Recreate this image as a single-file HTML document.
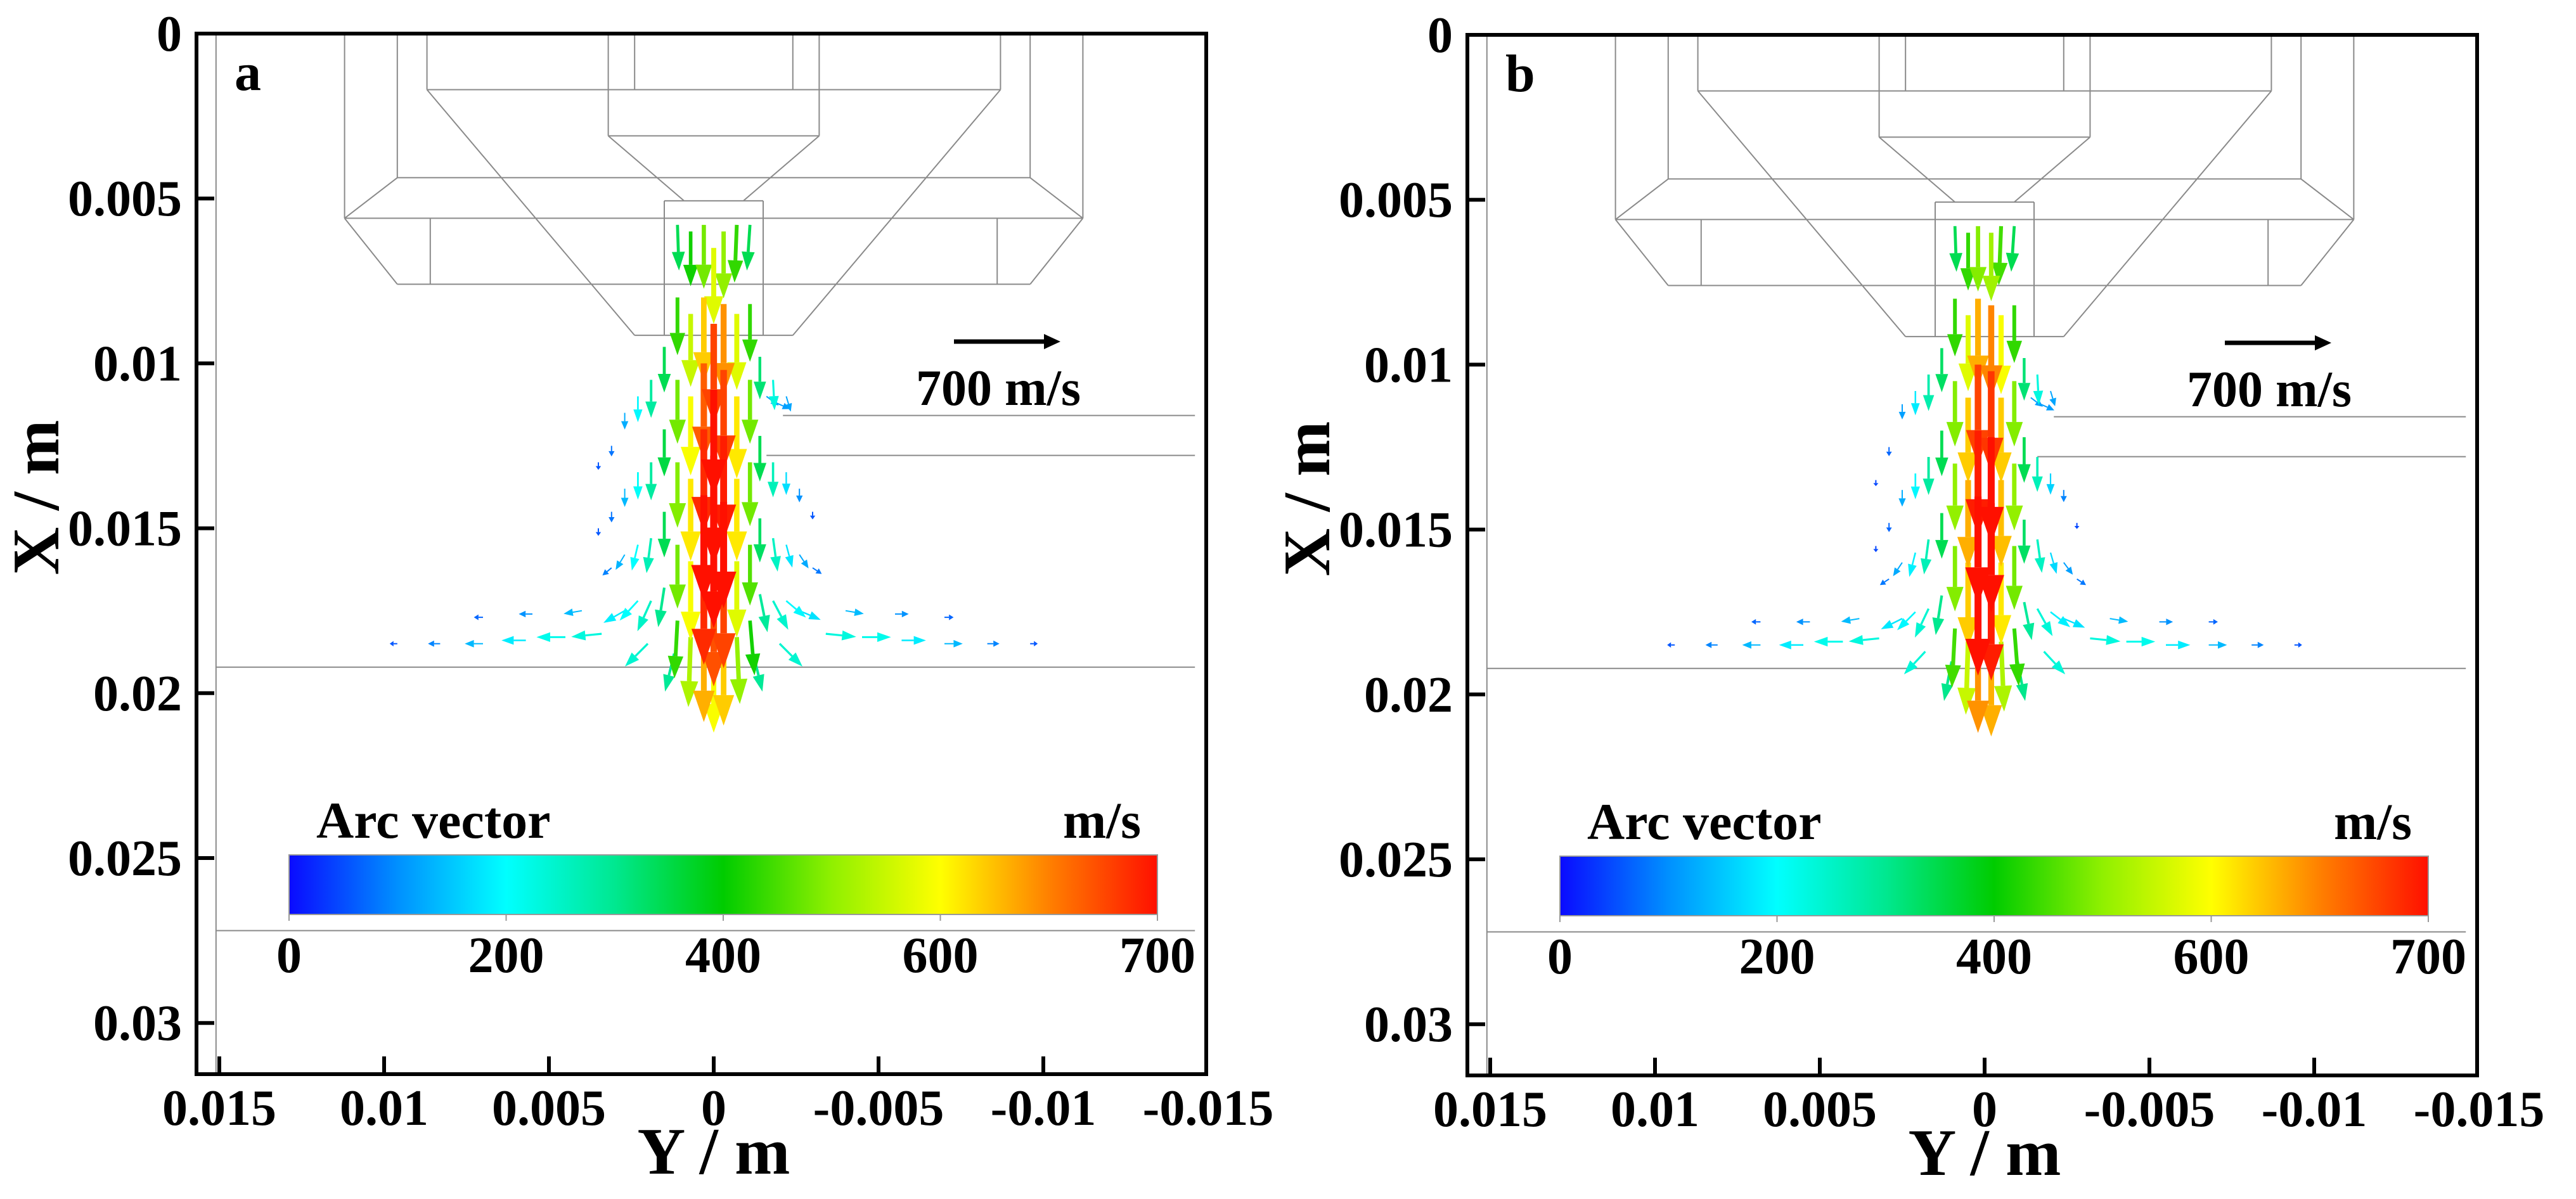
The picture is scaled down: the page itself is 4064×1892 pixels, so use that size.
<!DOCTYPE html>
<html><head><meta charset="utf-8"><style>
html,body{margin:0;padding:0;background:#fff;}
svg{display:block;}
text{font-family:"Liberation Serif",serif;font-weight:bold;fill:#000;}
</style></head><body>
<svg id="fig" width="4064" height="1892" viewBox="0 0 4064 1892" xmlns="http://www.w3.org/2000/svg">
<defs>
<linearGradient id="jet" x1="0" x2="1" y1="0" y2="0">
<stop offset="0" stop-color="#0a0aff"/><stop offset="0.125" stop-color="#0090ff"/><stop offset="0.25" stop-color="#00ffff"/>
<stop offset="0.375" stop-color="#00e890"/><stop offset="0.5" stop-color="#00cc00"/><stop offset="0.625" stop-color="#90f000"/>
<stop offset="0.75" stop-color="#ffff00"/><stop offset="0.875" stop-color="#ff8000"/><stop offset="1" stop-color="#ff1000"/>
</linearGradient>
</defs>
</svg>
<script>
// ---- data ----
const xTickValues = [0, 0.005, 0.01, 0.015, 0.02, 0.025, 0.03];
const xTickLabels = ["0", "0.005", "0.01", "0.015", "0.02", "0.025", "0.03"];
const yTickValues = [0.015, 0.01, 0.005, 0, -0.005, -0.01, -0.015];
const yTickLabels = ["0.015", "0.01", "0.005", "0", "-0.005", "-0.01", "-0.015"];
const colorbarValues = [0, 200, 400, 600, 800];
const colorbarLabels = ["0", "200", "400", "600", "700"];
const referenceSpeed = 700;
// vectors: [Y (m), X (m), radial velocity (m/s, +screen right), axial velocity (m/s, +down)]
const vectorsA = [
[0.0035,0.0130,0,50],[0.0035,0.0150,0,50],[0.0031,0.0125,0,70],[0.0031,0.0145,0,70],[0.0031,0.0162,-60,50],
[-0.0030,0.0145,0,50],[-0.0030,0.0162,60,40],
[0.0027,0.0115,0,110],[0.0027,0.0138,0,120],[0.0027,0.0158,-60,100],[0.0027,0.0175,-140,80],
[-0.0026,0.0138,0,90],[-0.0026,0.0158,60,90],[-0.0026,0.0175,140,60],
[0.0023,0.0110,0,170],[0.0023,0.0133,0,180],[0.0023,0.0155,-40,170],[0.0023,0.0172,-120,130],
[-0.0022,0.0110,30,100],[-0.0022,0.0133,0,150],[-0.0022,0.0155,40,150],[-0.0022,0.0172,130,110],
[0.0019,0.0105,0,250],[0.0019,0.0130,0,250],[0.0019,0.0153,-30,230],[0.0019,0.0172,-90,200],
[-0.0018,0.0105,10,200],[-0.0018,0.0130,0,230],[-0.0018,0.0153,30,220],[-0.0018,0.0172,100,190],
[0.0015,0.0095,0,300],[0.0015,0.0120,0,310],[0.0015,0.0145,0,300],[0.0015,0.0168,-40,260],
[-0.0014,0.0098,0,280],[-0.0014,0.0122,0,300],[-0.0014,0.0147,0,290],[-0.0014,0.0170,50,250],
[-0.0016,0.0110,80,60],[-0.0019,0.0112,90,40],
[0.0034,0.0182,-200,20],[0.0045,0.0183,-190,0],[0.0057,0.0184,-160,0],[0.0070,0.0185,-120,0],[0.0083,0.0185,-80,0],[0.0096,0.0185,-50,0],
[0.0040,0.0175,-120,20],[0.0055,0.0176,-90,0],[0.0070,0.0177,-60,0],
[-0.0034,0.0182,200,20],[-0.0045,0.0183,190,0],[-0.0057,0.0184,160,0],[-0.0070,0.0185,120,0],[-0.0083,0.0185,80,0],[-0.0096,0.0185,50,0],
[-0.0040,0.0175,120,20],[-0.0055,0.0176,90,0],[-0.0070,0.0177,60,0],
[0.0020,0.0185,-150,150],[-0.0020,0.0185,150,150],[0.0012,0.0188,-60,250],[-0.0012,0.0188,60,250],
[0.0011,0.0058,10,300],[0.0011,0.0080,0,380],[0.0011,0.0105,0,420],[0.0011,0.0130,0,430],[0.0011,0.0155,0,420],[0.0011,0.0178,-20,380],
[-0.0011,0.0058,-20,300],[-0.0011,0.0082,0,380],[-0.0011,0.0105,0,420],[-0.0011,0.0130,0,420],[-0.0011,0.0155,0,400],[-0.0011,0.0178,30,360],
[0.0007,0.0060,0,360],[0.0007,0.0085,0,480],[0.0007,0.0110,0,520],[0.0007,0.0135,0,540],[0.0007,0.0160,0,520],[0.0007,0.0183,-15,460],
[-0.0007,0.0058,-15,380],[-0.0007,0.0085,0,500],[-0.0007,0.0110,0,540],[-0.0007,0.0135,0,540],[-0.0007,0.0160,0,500],[-0.0007,0.0183,20,440],
[0.0003,0.0058,0,420],[0.0003,0.0080,0,560],[0.0003,0.0100,0,640],[0.0003,0.0120,0,680],[0.0003,0.0140,0,700],[0.0003,0.0160,0,680],[0.0003,0.0182,0,580],
[-0.0003,0.0060,0,440],[-0.0003,0.0082,0,600],[-0.0003,0.0102,0,660],[-0.0003,0.0122,0,690],[-0.0003,0.0142,0,700],[-0.0003,0.0162,0,660],[-0.0003,0.0184,0,560],
[0.0000,0.0065,0,500],[0.0000,0.0088,0,660],[0.0000,0.0108,0,700],[0.0000,0.0128,0,720],[0.0000,0.0148,0,700],[0.0000,0.0168,0,650],[0.0000,0.0188,0,520]
];
const vectorsB = [
[0.0033,0.0135,0,40],[0.0033,0.0155,0,40],[0.0029,0.0125,0,60],[0.0029,0.0148,0,60],[0.0029,0.0165,-60,40],
[-0.0028,0.0148,0,40],[-0.0028,0.0165,60,40],
[0.0025,0.0112,0,100],[0.0025,0.0138,0,110],[0.0025,0.0160,-60,90],[0.0025,0.0177,-140,70],
[-0.0024,0.0138,0,80],[-0.0024,0.0160,60,80],[-0.0024,0.0177,140,60],
[0.0021,0.0108,0,160],[0.0021,0.0133,0,170],[0.0021,0.0157,-40,160],[0.0021,0.0175,-120,120],
[-0.0020,0.0108,30,100],[-0.0020,0.0133,0,140],[-0.0020,0.0157,40,140],[-0.0020,0.0175,130,100],
[0.0017,0.0103,0,240],[0.0017,0.0128,0,250],[0.0017,0.0153,-30,230],[0.0017,0.0174,-90,190],
[-0.0016,0.0103,10,200],[-0.0016,0.0128,0,230],[-0.0016,0.0153,30,220],[-0.0016,0.0174,100,180],
[0.0013,0.0095,0,290],[0.0013,0.0120,0,300],[0.0013,0.0145,0,300],[0.0013,0.0170,-40,260],
[-0.0012,0.0098,0,280],[-0.0012,0.0122,0,300],[-0.0012,0.0147,0,290],[-0.0012,0.0172,50,250],
[-0.0014,0.0110,80,60],[-0.0017,0.0112,90,40],
[0.0032,0.0183,-200,20],[0.0043,0.0184,-190,0],[0.0055,0.0185,-160,0],[0.0068,0.0185,-120,0],[0.0081,0.0185,-80,0],[0.0094,0.0185,-50,0],
[0.0038,0.0177,-120,20],[0.0053,0.0178,-90,0],[0.0068,0.0178,-60,0],
[-0.0032,0.0183,200,20],[-0.0043,0.0184,190,0],[-0.0055,0.0185,160,0],[-0.0068,0.0185,120,0],[-0.0081,0.0185,80,0],[-0.0094,0.0185,50,0],
[-0.0038,0.0177,120,20],[-0.0053,0.0178,90,0],[-0.0068,0.0178,60,0],
[0.0018,0.0187,-140,150],[-0.0018,0.0187,140,150],[0.0010,0.0190,-50,260],[-0.0010,0.0190,50,260],
[0.0009,0.0058,10,300],[0.0009,0.0080,0,380],[0.0009,0.0105,0,430],[0.0009,0.0130,0,440],[0.0009,0.0155,0,430],[0.0009,0.0180,-20,390],
[-0.0009,0.0058,-20,300],[-0.0009,0.0082,0,380],[-0.0009,0.0105,0,430],[-0.0009,0.0130,0,440],[-0.0009,0.0155,0,420],[-0.0009,0.0180,30,380],
[0.0005,0.0060,0,380],[0.0005,0.0085,0,500],[0.0005,0.0110,0,560],[0.0005,0.0135,0,580],[0.0005,0.0160,0,560],[0.0005,0.0184,-15,480],
[-0.0005,0.0058,-15,390],[-0.0005,0.0085,0,520],[-0.0005,0.0110,0,560],[-0.0005,0.0135,0,570],[-0.0005,0.0160,0,540],[-0.0005,0.0184,20,460],
[0.0002,0.0058,0,430],[0.0002,0.0080,0,580],[0.0002,0.0100,0,660],[0.0002,0.0120,0,690],[0.0002,0.0140,0,710],[0.0002,0.0162,0,700],[0.0002,0.0184,0,600],
[-0.0002,0.0060,0,450],[-0.0002,0.0082,0,610],[-0.0002,0.0102,0,670],[-0.0002,0.0122,0,700],[-0.0002,0.0142,0,720],[-0.0002,0.0164,0,690],[-0.0002,0.0186,0,580]
];
// torch geometry segments [Y1, X1, Y2, X2] in metres
const geometryLines = [
[0.0112,0,0.0112,0.0056],[-0.0112,0,-0.0112,0.0056],[0.0112,0.0056,-0.0112,0.0056],
[0.0112,0.0056,0.0096,0.0076],[-0.0112,0.0056,-0.0096,0.0076],[0.0096,0.0076,-0.0096,0.0076],
[0.0086,0.0056,0.0086,0.0076],[-0.0086,0.0056,-0.0086,0.0076],
[0.0096,0,0.0096,0.00437],[-0.0096,0,-0.0096,0.00437],[0.0096,0.00437,-0.0096,0.00437],
[0.0096,0.00437,0.0112,0.0056],[-0.0096,0.00437,-0.0112,0.0056],
[0.0087,0,0.0087,0.0017],[-0.0087,0,-0.0087,0.0017],[0.0087,0.0017,-0.0087,0.0017],
[0.0087,0.0017,0.0024,0.00915],[-0.0087,0.0017,-0.0024,0.00915],[0.0024,0.00915,-0.0024,0.00915],
[0.0032,0,0.0032,0.0031],[-0.0032,0,-0.0032,0.0031],[0.0032,0.0031,-0.0032,0.0031],
[0.0024,0,0.0024,0.0017],[-0.0024,0,-0.0024,0.0017],
[0.0032,0.0031,0.0009,0.00507],[-0.0032,0.0031,-0.0009,0.00507],
[0.0015,0.00507,0.0015,0.00915],[-0.0015,0.00507,-0.0015,0.00915],[0.0015,0.00507,-0.0015,0.00507],
[-0.0021,0.01158,-0.0146,0.01158],[-0.0016,0.01279,-0.0146,0.01279],
[0.0151,0.01921,-0.0146,0.01921],[0.0151,0.0272,-0.0146,0.0272],
[0.0151,0,0.0151,0.0315]
];
// ---- rendering ----
const NS = "http://www.w3.org/2000/svg";
const svg = document.getElementById("fig");
function mk(tag, attrs, parent){const e=document.createElementNS(NS,tag);for(const k in attrs)e.setAttribute(k,attrs[k]);(parent||svg).appendChild(e);return e;}
const cstops=[[0,[10,10,255]],[100,[0,144,255]],[200,[0,255,255]],[300,[0,232,144]],[400,[0,204,0]],[500,[144,240,0]],[600,[255,255,0]],[700,[255,128,0]],[800,[255,16,0]]];
function cmap(v){v=Math.max(0,Math.min(800,v));for(let i=1;i<cstops.length;i++){if(v<=cstops[i][0]){const a=cstops[i-1],b=cstops[i],t=(v-a[0])/(b[0]-a[0]);const c=a[1].map((x,j)=>Math.round(x+(b[1][j]-x)*t));return `rgb(${c[0]},${c[1]},${c[2]})`;}}return "rgb(255,16,0)";}

function panel(dx, dy, letter, vectors){
  const g = mk("g",{});
  
  
  const L=310+dx, R=1903+dx, T=53+dy, B=1695+dy;
  const px = Y => 1126+dx - Y/0.005*260;
  const py = X => 53+dy + X/0.005*260.2;
  const geo = mk("g",{stroke:"#8a8a8a","stroke-width":2,fill:"none"},g);
  
  
  geometryLines.forEach(s=>{mk("line",{x1:px(s[0]),y1:py(s[1]),x2:px(s[2]),y2:py(s[3])},geo);});
  const vg = mk("g",{},g);
  
  
  const sorted = vectors.slice().sort((a,b)=>Math.hypot(a[2],a[3])-Math.hypot(b[2],b[3]));
  sorted.forEach(v=>{
    const s=Math.hypot(v[2],v[3]); if(s<1)return;
    const len=s/referenceSpeed*168, ux=v[2]/s, uy=v[3]/s;
    const x0=px(v[0]), y0=py(v[1]), x1=x0+ux*len, y1=y0+uy*len;
    const hl=Math.min(len*0.5, 8+s/700*50), hw=3+s/700*17, sw=Math.max(2,s/700*11);
    const bx=x1-ux*hl, by=y1-uy*hl, nx=-uy, ny=ux;
    const col=cmap(s/700*800);
    const a=mk("g",{},vg);
    
    
    mk("line",{x1:x0,y1:y0,x2:bx,y2:by,stroke:col,"stroke-width":sw},a);
    mk("polygon",{points:`${x1},${y1} ${bx+nx*hw},${by+ny*hw} ${bx-nx*hw},${by-ny*hw}`,fill:col},a);
  });
  const fr = mk("rect",{x:L,y:T,width:R-L,height:B-T,fill:"none",stroke:"#000","stroke-width":6},g);
  
  
  xTickValues.forEach((v,i)=>{
    const y=py(v);
    if(i>0) mk("line",{x1:L,y1:y,x2:L+28,y2:y,stroke:"#000","stroke-width":6},g);
    const t=mk("text",{x:287+dx,y:y+27,"text-anchor":"end","font-size":80},g);
    
    
    t.textContent=xTickLabels[i];
  });
  yTickValues.forEach((v,i)=>{
    const x=px(v);
    if(x>L+5 && x<R-5) mk("line",{x1:x,y1:B,x2:x,y2:B-28,stroke:"#000","stroke-width":6},g);
    const t=mk("text",{x:x,y:1775+dy,"text-anchor":"middle","font-size":80},g);
    
    
    t.textContent=yTickLabels[i];
  });
  const xt=mk("text",{x:0,y:0,"text-anchor":"middle","font-size":105,transform:`translate(${92+dx},${785+dy}) rotate(-90)`},g);
  
  
  xt.textContent="X / m";
  const yt=mk("text",{x:1126+dx,y:1852+dy,"text-anchor":"middle","font-size":105},g);
  
  
  yt.textContent="Y / m";
  const lt=mk("text",{x:370+dx,y:142+dy,"font-size":84},g);
  
  
  lt.textContent=letter;
  const ra=mk("g",{},g);
  
  
  const rl=referenceSpeed/referenceSpeed*168;
  mk("line",{x1:1505+dx,y1:539+dy,x2:1505+dx+rl-22,y2:539+dy,stroke:"#000","stroke-width":7},ra);
  mk("polygon",{points:`${1505+dx+rl},${539+dy} ${1505+dx+rl-26},${527+dy} ${1505+dx+rl-26},${551+dy}`,fill:"#000"},ra);
  const rt=mk("text",{x:1575+dx,y:639+dy,"text-anchor":"middle","font-size":80},ra);
  
  
  rt.textContent=referenceSpeed+" m/s";
  const cb=mk("g",{},g);
  
  
  const cx0=456+dx, cx1=1826+dx, cy0=1349+dy, cy1=1443+dy;
  const cpx=v=>cx0+(v-colorbarValues[0])/(colorbarValues[colorbarValues.length-1]-colorbarValues[0])*(cx1-cx0);
  mk("rect",{x:cx0,y:cy0,width:cx1-cx0,height:cy1-cy0,fill:"url(#jet)",stroke:"#999","stroke-width":2},cb);
  colorbarValues.forEach((v,i)=>{
    mk("line",{x1:cpx(v),y1:cy1,x2:cpx(v),y2:cy1+10,stroke:"#999","stroke-width":2},cb);
    const t=mk("text",{x:cpx(v),y:1534+dy,"text-anchor":"middle","font-size":80},cb);
    
    
    t.textContent=colorbarLabels[i];
  });
  const ct=mk("text",{x:499+dx,y:1322+dy,"font-size":82},cb);
  
  
  ct.textContent="Arc vector";
  const cu=mk("text",{x:1800+dx,y:1322+dy,"text-anchor":"end","font-size":82},cb);
  
  
  cu.textContent="m/s";
}
panel(0,0,"a",vectorsA);
panel(2005,2,"b",vectorsB);
</script>
</body></html>
